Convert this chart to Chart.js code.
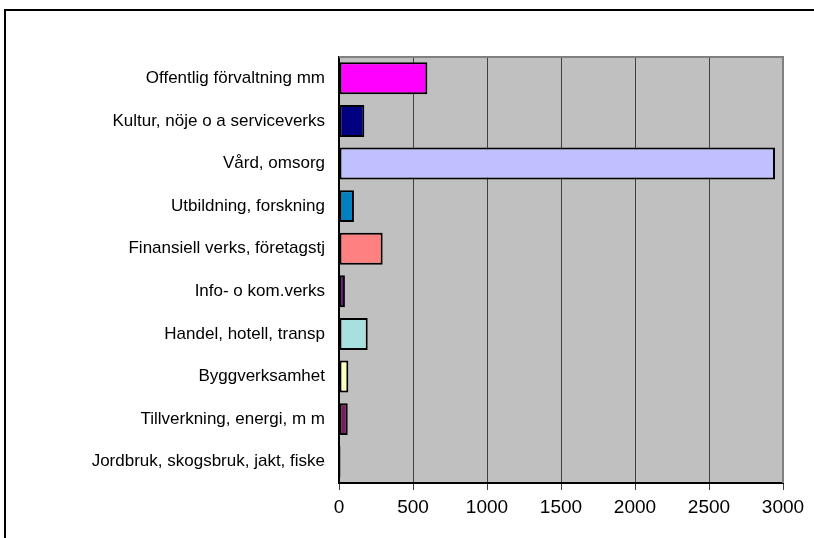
<!DOCTYPE html>
<html>
<head>
<meta charset="utf-8">
<style>
  body { margin: 0; background: #fff; }
  #wrap { position: relative; width: 814px; height: 538px; overflow: hidden; }
  #frame { position: absolute; left: 4px; top: 9px; width: 820px; height: 540px;
           border-top: 2px solid #000; border-left: 2px solid #000; }
  canvas { position: absolute; left: 0; top: 0; }
</style>
</head>
<body>
<div id="wrap">
  <div id="frame"></div>
  <canvas id="myChart" width="814" height="538"></canvas>
</div>

<script src="https://cdn.jsdelivr.net/npm/chart.js"></script>

<script>
  // branscher, uppifrån och ned
  const labels = [
    'Offentlig förvaltning mm',
    'Kultur, nöje o a serviceverks',
    'Vård, omsorg',
    'Utbildning, forskning',
    'Finansiell verks, företagstj',
    'Info- o kom.verks',
    'Handel, hotell, transp',
    'Byggverksamhet',
    'Tillverkning, energi, m m',
    'Jordbruk, skogsbruk, jakt, fiske'
  ];
  const values = [597, 171, 2946, 101, 295, 40, 194, 63, 59, 10];
  const colors = [
    '#FF00FF', '#000080', '#C0C0FF', '#0080C0', '#FF8080',
    '#660080', '#A8E0E0', '#FFFFC0', '#7A1A5F', '#000000'
  ];
  const xMin = 0;
  const xMax = 3000;
  const xStep = 500;

  // grå bakgrund + ram runt diagramytan
  const plotArea = {
    id: 'plotArea',
    beforeDraw(chart) {
      const { ctx, chartArea: a } = chart;
      ctx.save();
      ctx.fillStyle = '#C0C0C0';
      ctx.fillRect(a.left, a.top, a.right - a.left, a.bottom - a.top);
      ctx.restore();
    },
    afterDraw(chart) {
      const { ctx, chartArea: a } = chart;
      ctx.save();
      ctx.strokeStyle = '#808080';
      ctx.lineWidth = 2;
      ctx.beginPath();
      ctx.moveTo(a.left, a.top);
      ctx.lineTo(a.right, a.top);
      ctx.lineTo(a.right, a.bottom);
      ctx.stroke();
      ctx.restore();
    }
  };

  new Chart(document.getElementById('myChart'), {
    type: 'bar',
    data: {
      labels: labels,
      datasets: [{
        data: values,
        backgroundColor: colors,
        borderColor: '#000',
        borderWidth: 2,
        borderSkipped: false,
        categoryPercentage: 1,
        barPercentage: 0.75
      }]
    },
    options: {
      indexAxis: 'y',
      responsive: false,
      animation: false,
      layout: {
        padding: { left: 0, top: 57, right: 31, bottom: 0 }
      },
      plugins: {
        legend: { display: false },
        tooltip: { enabled: false }
      },
      scales: {
        x: {
          min: xMin,
          max: xMax,
          afterFit(scale) { scale.height = 55; },
          ticks: {
            stepSize: xStep,
            color: '#000',
            padding: 6,
            maxRotation: 0,
            callback: (v) => String(v),
            font: { family: 'Liberation Sans, Arial', size: 19 }
          },
          grid: {
            color: '#404040',
            lineWidth: 1,
            tickLength: 7,
            tickColor: '#404040'
          },
          border: { color: '#000', width: 2 }
        },
        y: {
          afterFit(scale) { scale.width = 339; },
          ticks: {
            color: '#000',
            padding: 14,
            font: { family: 'Liberation Sans, Arial', size: 17 }
          },
          grid: { display: false, drawTicks: false },
          border: { color: '#000', width: 2 }
        }
      }
    },
    plugins: [plotArea]
  });
</script>
</body>
</html>
